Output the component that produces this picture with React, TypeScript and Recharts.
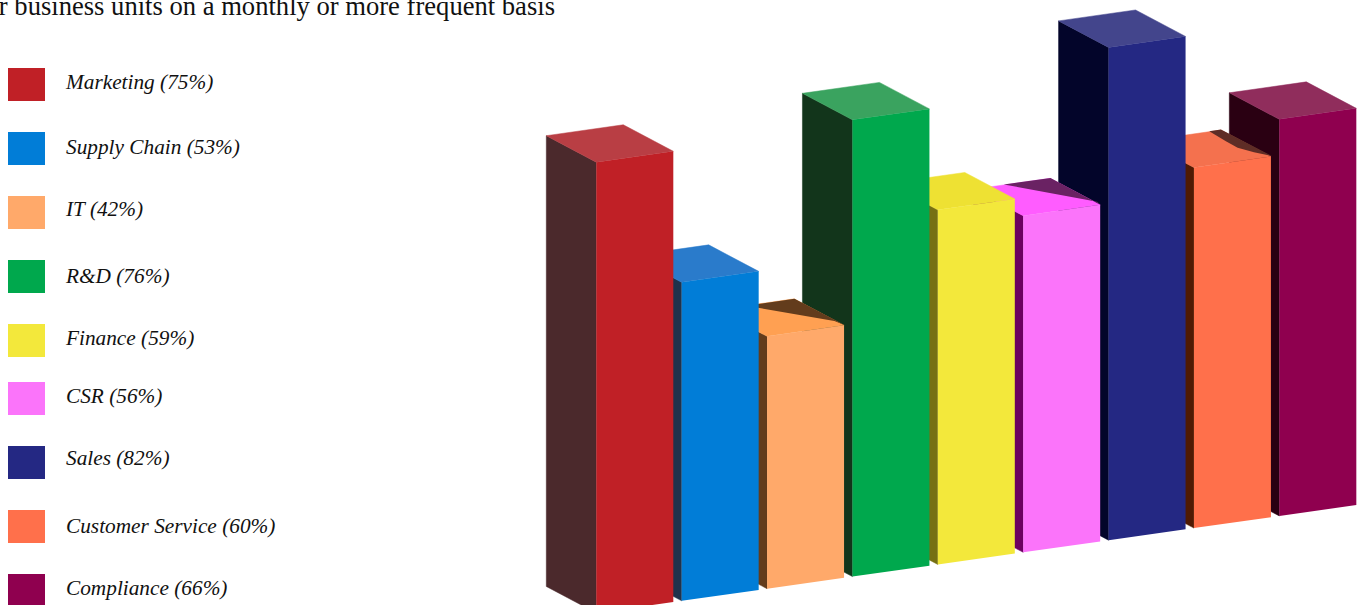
import { BarChart, Bar, XAxis, YAxis } from "recharts";

// business units, left to right along the bar row
const categories = [
  "Marketing",
  "Supply Chain",
  "IT",
  "R&D",
  "Finance",
  "CSR",
  "Sales",
  "Customer Service",
  "Compliance",
];
const shares = [75, 53, 42, 76, 59, 56, 82, 60, 66];

const frontColors = ["#c02026", "#017dd7", "#ffa96a", "#00a84d", "#f3e83b", "#fb74fa", "#242883", "#ff704b", "#8f004f"];
const topColors = ["#b93e44", "#2a7bcb", "#ffa052", "#3aa35f", "#eee133", "#ff5cff", "#43458c", "#f4714e", "#902d5c"];
const sideColors = ["#4b292c", "#1f324c", "#633c1c", "#12351b", "#767013", "#6b0060", "#03052a", "#501a03", "#2a0012"];

// legend rows: swatch top and text baseline, px
const swatchTops = [68, 132, 196, 260, 324, 382, 446, 510, 574];
const labelBaselines = [89, 154, 216, 283, 345, 403, 465, 533, 595];

// cast shadows on the top faces, offsets from the front-left top corner
const topShadows: Record<string, { points: number[][]; color: string }> = {
  IT: { points: [[-21, -30.6], [27.5, -37.5], [78, -11], [67.3, -15.3]], color: "#633c1c" },
  CSR: { points: [[-19.4, -31.3], [27.3, -37.7], [77.3, -11], [74, -14]], color: "#6a2263" },
  "Customer Service": {
    points: [[15.3, -36.3], [27, -38], [78, -11.5], [60, -15.3], [43.7, -19.7], [32, -26.3]],
    color: "#5e2d26",
  },
};

// Bars are painted back to front, so the rightmost one goes first
const chartData = categories.map((name, i) => ({ name, share: shares[i] })).reverse();

const SKEW = 0.142;
const DEPTH_X = -50;
const DEPTH_Y = -26.5;
const skewAt = (px: number) => 12 - SKEW * (px - 596);

const pts = (list: number[][]) => list.map((p) => p.join(",")).join(" ");

function Bar3D(props: any) {
  const { x, y, width, height, payload } = props;
  const idx = categories.indexOf(payload.name);
  const fl = [x, y + skewAt(x)];
  const fr = [x + width, y + skewAt(x + width)];
  const br = [x + width, fr[1] + height];
  const bl = [x, fl[1] + height];
  const back = (p: number[]) => [p[0] + DEPTH_X, p[1] + DEPTH_Y];
  const shadow = topShadows[payload.name];

  // thin same-colour strokes close the seams between faces
  return (
    <g>
      <polygon points={pts([fl, back(fl), back(bl), bl])} fill={sideColors[idx]} stroke={sideColors[idx]} strokeWidth={0.5} />
      <polygon points={pts([fl, back(fl), back(fr), fr])} fill={topColors[idx]} stroke={topColors[idx]} strokeWidth={0.5} />
      <polygon points={pts([fl, fr, br, bl])} fill={frontColors[idx]} />
      {shadow && (
        <polygon
          points={pts(shadow.points.map((p) => [fl[0] + p[0], fl[1] + p[1]]))}
          fill={shadow.color}
        />
      )}
    </g>
  );
}

export default function App() {
  return (
    <div style={{ position: "absolute", left: 0, top: 0, width: 1365, height: 605, overflow: "hidden", background: "#fff" }}>
      <svg width={560} height={605} style={{ position: "absolute", left: 0, top: 0 }}>
        <text x={555} y={15} textAnchor="end" fontFamily="Liberation Serif" fontSize={26.6} fill="#111">
          r business units on a monthly or more frequent basis
        </text>
        {categories.map((name, i) => (
          <g key={name}>
            <rect x={8} y={swatchTops[i]} width={37} height={33} fill={frontColors[i]} />
            <text x={66} y={labelBaselines[i]} fontFamily="Liberation Serif" fontStyle="italic" fontSize={21.3} fill="#111">
              {`${name} (${shares[i]}%)`}
            </text>
          </g>
        ))}
      </svg>
      <div style={{ position: "absolute", left: 0, top: 0 }}>
        <BarChart
          width={1365}
          height={605}
          data={chartData}
          barCategoryGap={0}
          margin={{ top: 0, right: 4.3, bottom: 4, left: 592.3 }}
        >
          <XAxis dataKey="name" reversed hide />
          <YAxis domain={[0, 100]} hide />
          <Bar dataKey="share" barSize={77} shape={Bar3D} isAnimationActive={false} />
        </BarChart>
      </div>
    </div>
  );
}
